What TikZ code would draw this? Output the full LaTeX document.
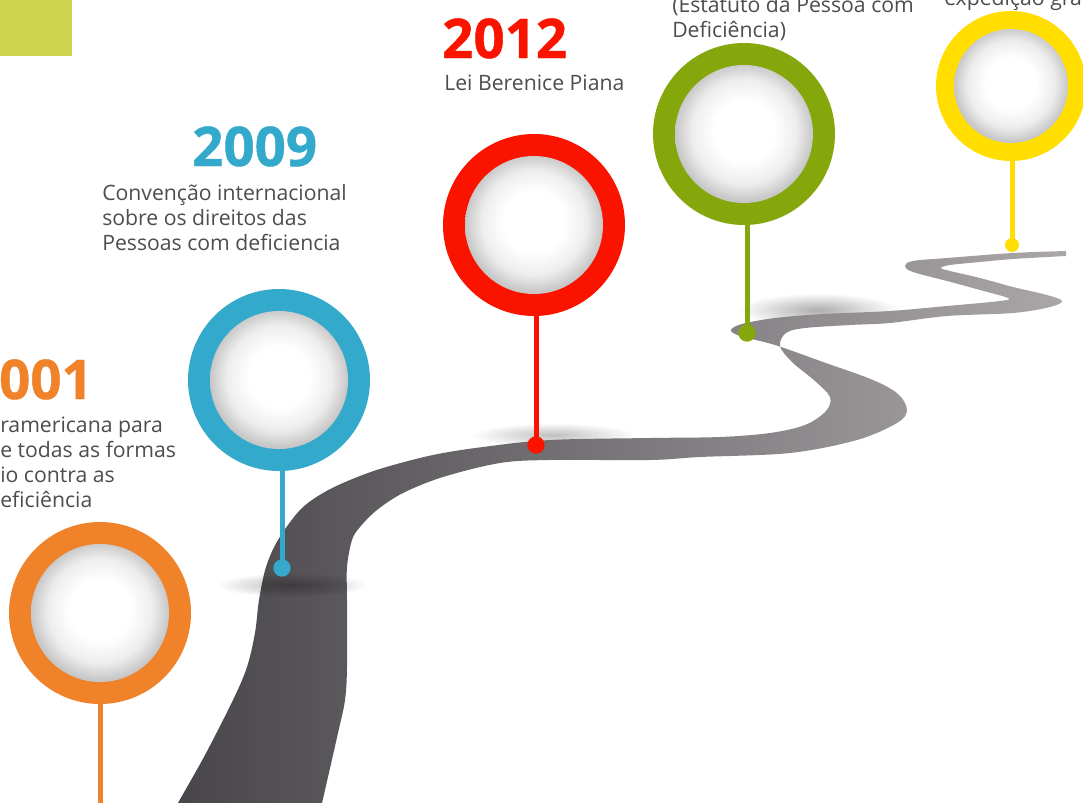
\documentclass[tikz,border=0pt]{standalone}
\usepackage{fontspec}
\setmainfont{Open Sans}
\newfontfamily\yearfont{Open Sans}[BoldFeatures={FakeBold=0.8}]
\usetikzlibrary{fadings}
\definecolor{cOrange}{HTML}{F0822A}
\definecolor{cBlue}{HTML}{33AACB}
\definecolor{cRed}{HTML}{FA1400}
\definecolor{cOlive}{HTML}{86A70C}
\definecolor{cYellow}{HTML}{FFDE00}
\definecolor{cLime}{HTML}{CDD450}
\definecolor{textgray}{HTML}{4D4D4D}
\definecolor{roadL}{HTML}{48454A}
\definecolor{roadR}{HTML}{ABA7A9}
\tikzfading[name=softblob, inner color=transparent!0, outer color=transparent!100]
\pgfdeclareradialshading{ballshade}{\pgfpoint{0bp}{1.5bp}}{color(0bp)=(white); color(11bp)=(white); color(19bp)=(black!7); color(25bp)=(black!22); color(50bp)=(black!22)}
\tikzset{
  ring/.style={circle, inner sep=0pt, minimum size=136.5pt},
  ball/.style={circle, inner sep=0pt, minimum size=103.5pt, shading=ballshade},
  smallring/.style={circle, inner sep=0pt, minimum size=112.5pt},
  smallball/.style={circle, inner sep=0pt, minimum size=85.5pt, shading=ballshade},
  pindot/.style={circle, inner sep=0pt, minimum size=13pt},
  stem/.style={line width=3.75pt},
  year/.style={font=\yearfont\fontsize{41}{42}\selectfont\bfseries, inner sep=0pt},
  body/.style={font=\fontsize{15.9}{18.75}\selectfont, text=textgray, inner sep=0pt, align=left},
  shadowblob/.style={fill=black, path fading=softblob},
}
\begin{document}
\begin{tikzpicture}[x=0.75pt,y=-0.75pt]
\useasboundingbox (0,0) rectangle (1083,803);
\clip (0,0) rectangle (1083,803);
\fill[white] (0,0) rectangle (1083,803);
% green square
\fill[cLime] (0,0) rectangle (72,56);
% shadows behind road
\fill[shadowblob, opacity=0.32] (818,310) ellipse (80 and 17);
\fill[shadowblob, opacity=0.25] (553,435) ellipse (82 and 12);
% road
\shade[left color=roadL, right color=roadR]
  plot[smooth, tension=0.55] coordinates {(170,818) (178,803) (205,755) (233,700) (247,667) (255,633) (259,600) (266,567) (278,540) (300,510) (323,493) (350,480) (383,468) (433,455) (483,447) (550,440) (650,438) (720,437) (770,433) (805,425) (826,411) (830,397) (815,381) (792,362) (780,346) (786,333) (805,328) (850,325) (890,323) (947,316) (1013,313) (1050,307) (1062,301) (1047,295) (1013,287) (980,278) (950,271) (941,268) (950,265) (980,262) (1013,259) (1066,256)}
  -- plot[smooth, tension=0.55] coordinates {(1066,251) (1013,253) (947,258) (913,261) (905,266) (913,272) (947,281) (980,290) (1008,298) (1000,301) (947,306) (890,311) (823,314) (775,318) (742,324) (731,330) (740,336) (775,345) (823,362) (873,380) (898,394) (907,410) (897,423) (857,440) (790,453) (700,457) (650,460) (550,460) (500,463) (443,477) (403,493) (377,510) (360,527) (352,540) (347,567) (347,600) (347,667) (345,700) (338,733) (322,803) (318,818)}
  -- cycle;
% shadow across road
\fill[shadowblob, opacity=0.28] (292,585) ellipse (76 and 12);
% rings
\node[ring, fill=cOrange] (p01) at (100,613) {};
\node[ball] (p01in) at (100,613) {};
\node[ring, fill=cBlue] (p09) at (279,380) {};
\node[ball] (p09in) at (279,380) {};
\node[ring, fill=cRed] (p12) at (534,225) {};
\node[ball] (p12in) at (534,225) {};
\node[ring, fill=cOlive] (p15) at (744,134) {};
\node[ball] (p15in) at (744,134) {};
\node[smallring, fill=cYellow] (p16) at (1011,86) {};
\node[smallball] (p16in) at (1011,86) {};
% dots
\coordinate (d01) at (100,815);
\node[pindot, fill=cBlue] (d09) at (282,568) {};
\node[pindot, fill=cRed] (d12) at (536,445) {};
\node[pindot, fill=cOlive] (d15) at (747,333) {};
\node[pindot, fill=cYellow, minimum size=10.5pt] (d16) at (1012,245) {};
% stems
\draw[stem, cOrange] (p01.south) -- (d01);
\draw[stem, cBlue] (d09 |- p09.south) -- (d09.center);
\draw[stem, cRed] (d12 |- p12.south) -- (d12.center);
\draw[stem, cOlive] (d15 |- p15.south) -- (d15.center);
\draw[stem, cYellow] (d16 |- p16.south) -- (d16.center);
% texts
\node[year, text=cRed, anchor=base west] (y12) at (442,58) {2012};
\node[body, anchor=base west] (t12) at (444,90) {Lei Berenice Piana};
\node[year, text=cBlue, anchor=base west] (y09) at (192,166) {2009};
\node[body, anchor=base west] (t09) at (102,250) {Convenção internacional\\sobre os direitos das\\Pessoas com deficiencia};
\node[year, text=cOrange, anchor=base east] (y01) at (93,399) {001};
\node[body, anchor=base west] (t01) at (0,507) {ramericana para\\e todas as formas\\io contra as\\eficiência};
\node[body, anchor=base west] (t15) at (672,37) {(Estatuto da Pessoa com\\Deficiência)};
\node[body, anchor=base west] (t16) at (944,6) {expedição gra};
\end{tikzpicture}
\end{document}
